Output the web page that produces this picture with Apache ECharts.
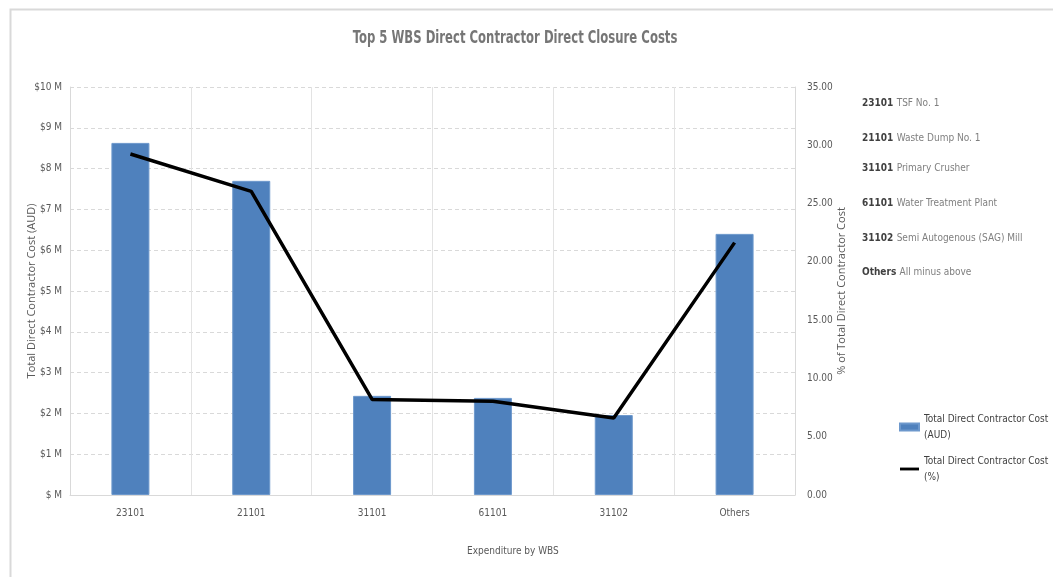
<!DOCTYPE html>
<html>
<head>
<meta charset="utf-8">
<script src="https://cdn.jsdelivr.net/npm/echarts@6/dist/echarts.min.js"></script>
<style>
  html, body { margin: 0; padding: 0; background: #fff; }
  #chart { width: 1053px; height: 577px; }
</style>
</head>
<body>
<div id="chart"></div>
<script>
// WBS categories along the x axis
const categories = ['23101', '21101', '31101', '61101', '31102', 'Others'];
// Total direct contractor cost, millions of AUD
const costMillions = [8.63, 7.70, 2.43, 2.38, 1.96, 6.40];
// Share of total direct contractor cost, percent
const costPercent = [29.25, 26.05, 8.2, 8.05, 6.6, 21.65];
// WBS code descriptions shown beside the plot
const wbsCodes = ['23101', '21101', '31101', '61101', '31102', 'Others'];
const wbsNames = ['TSF No. 1', 'Waste Dump No. 1', 'Primary Crusher', 'Water Treatment Plant', 'Semi Autogenous (SAG) Mill', 'All minus above'];

const narrow = '"DejaVu Sans Condensed", "Liberation Sans Narrow", sans-serif';
const wide = '"Open Sans", "DejaVu Sans", sans-serif';
const grey = '#595959';

const chart = echarts.init(document.getElementById('chart'));

const keyRowsY = [104, 139, 169, 204, 239, 273];
const keyGraphics = wbsCodes.map((code, i) => ({
  type: 'text',
  left: 862,
  top: keyRowsY[i] - 7,
  style: {
    text: '{c|' + code + '} {d|' + wbsNames[i] + '}',
    rich: {
      c: { fontFamily: narrow, fontSize: 10, fontWeight: 'bold', fill: '#404040' },
      d: { fontFamily: narrow, fontSize: 10, fill: '#7f7f7f' }
    }
  }
}));

chart.setOption({
  animation: false,
  grid: { left: 70, right: 258, top: 87, bottom: 82 },
  legend: {
    orient: 'vertical',
    left: 894,
    top: 406,
    itemGap: 10,
    itemWidth: 19,
    itemHeight: 7,
    textStyle: { fontFamily: narrow, fontSize: 10, color: '#404040', lineHeight: 16 },
    data: [
      { name: 'Total Direct Contractor Cost\n(AUD)', icon: 'rect' },
      { name: 'Total Direct Contractor Cost\n(%)', icon: 'path://M0,0L20,0L20,3L0,3Z' }
    ]
  },
  xAxis: {
    type: 'category',
    data: categories,
    axisLine: { lineStyle: { color: '#d9d9d9' } },
    axisTick: { show: false },
    axisLabel: { fontFamily: narrow, fontSize: 10, color: grey, margin: 13 },
    splitLine: { show: true, lineStyle: { color: '#e3e3e3', width: 1 } }
  },
  yAxis: [
    {
      type: 'value',
      min: 0, max: 10, interval: 1,
      name: 'Total Direct Contractor Cost (AUD)',
      nameLocation: 'middle',
      nameGap: 33,
      nameMoveOverlap: false,
      nameTextStyle: { fontFamily: wide, fontSize: 11, color: grey },
      axisLine: { show: true, lineStyle: { color: '#d9d9d9' } },
      axisTick: { show: false },
      axisLabel: {
        fontFamily: narrow, fontSize: 10, color: grey, margin: 8,
        formatter: v => v === 0 ? '$ M' : '$' + v + ' M'
      },
      splitLine: { lineStyle: { color: '#d9d9d9', type: [4, 3] } }
    },
    {
      type: 'value',
      min: 0, max: 35, interval: 5,
      name: '% of Total Direct Contractor Cost',
      nameLocation: 'middle',
      nameGap: 41,
      nameMoveOverlap: false,
      nameRotate: 90,
      nameTextStyle: { fontFamily: wide, fontSize: 11, color: grey },
      axisLine: { show: true, lineStyle: { color: '#d9d9d9' } },
      axisTick: { show: false },
      axisLabel: {
        fontFamily: narrow, fontSize: 10, color: grey, margin: 12,
        formatter: v => v.toFixed(2)
      },
      splitLine: { show: false }
    }
  ],
  series: [
    {
      name: 'Total Direct Contractor Cost\n(AUD)',
      type: 'bar',
      data: costMillions,
      barWidth: 38,
      itemStyle: { color: '#4f81bd', borderColor: '#6d98cc', borderWidth: 1 },
      yAxisIndex: 0
    },
    {
      name: 'Total Direct Contractor Cost\n(%)',
      type: 'line',
      data: costPercent,
      yAxisIndex: 1,
      symbol: 'none',
      lineStyle: { color: '#000', width: 3.5 },
      itemStyle: { color: '#000' }
    }
  ],
  graphic: [
    {
      type: 'rect',
      left: 8, top: 7,
      shape: { width: 1100, height: 620 },
      style: { fill: 'none', stroke: '#d9d9d9', lineWidth: 2 },
      silent: true
    },
    {
      // chart title, set in a condensed face
      type: 'text',
      x: 515,
      y: 38,
      scaleX: 0.72,
      style: {
        text: 'Top 5 WBS Direct Contractor Direct Closure Costs',
        fontFamily: narrow, fontSize: 18, fontWeight: 'bold', fill: '#767676',
        textAlign: 'center', textVerticalAlign: 'middle'
      }
    },
    {
      type: 'text',
      left: 467,
      top: 546,
      style: {
        text: 'Expenditure by WBS',
        fontFamily: narrow, fontSize: 10, fill: grey,
        textAlign: 'center'
      }
    }
  ].concat(keyGraphics)
});
</script>
</body>
</html>
